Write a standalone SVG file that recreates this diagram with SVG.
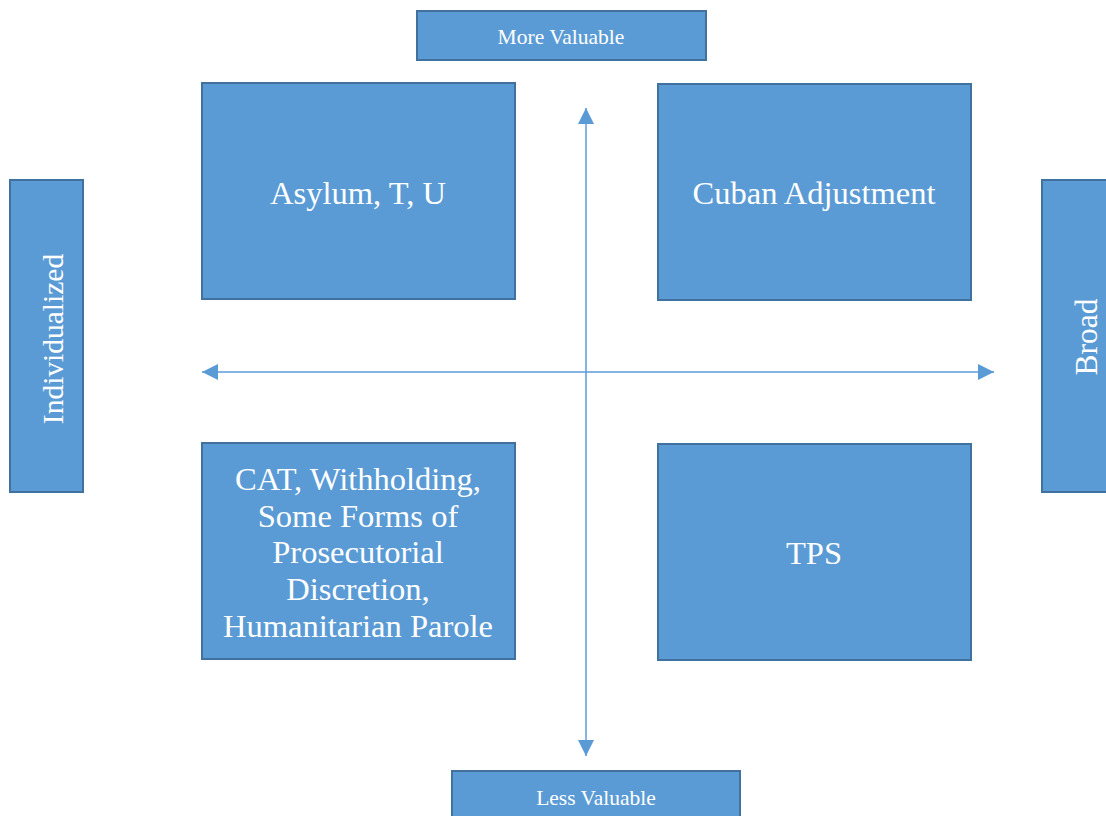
<svg xmlns="http://www.w3.org/2000/svg" width="1106" height="816" viewBox="0 0 1106 816">
<defs>
<style>
.box{fill:#5B9BD5;stroke:#41719C;stroke-width:2}
.t{fill:#fff;font-family:"Liberation Serif","Times New Roman",serif;text-anchor:middle}
.big{font-size:32.5px}
.small{font-size:21.5px}
.ax{stroke:#5B9BD5;stroke-width:1.5;fill:none}
</style>
<marker id="ah" viewBox="0 0 10 10" refX="10" refY="5" markerWidth="16" markerHeight="16" markerUnits="userSpaceOnUse" orient="auto">
<path d="M0,0 L10,5 L0,10 Z" fill="#5B9BD5"/>
</marker>
</defs>
<rect width="1106" height="816" fill="#fff"/>
<g id="connectors">
<line class="ax" x1="586" y1="372" x2="586" y2="108" marker-end="url(#ah)"/>
<line class="ax" x1="586" y1="372" x2="586" y2="756" marker-end="url(#ah)"/>
<line class="ax" x1="586" y1="372" x2="202" y2="372" marker-end="url(#ah)"/>
<line class="ax" x1="586" y1="372" x2="994" y2="372" marker-end="url(#ah)"/>
</g>
<g id="more-valuable">
<rect class="box" x="417" y="11" width="289" height="49"/>
<text class="t small" x="561" y="44">More Valuable</text>
</g>
<g id="less-valuable">
<rect class="box" x="452" y="771" width="288" height="50"/>
<text class="t small" x="596" y="805">Less Valuable</text>
</g>
<g id="individualized">
<rect class="box" x="10" y="180" width="73" height="312"/>
<text class="t" style="font-size:29.5px" transform="translate(63,339) rotate(-90)">Individualized</text>
</g>
<g id="broad">
<rect class="box" x="1042" y="180" width="70" height="312"/>
<text class="t" style="font-size:31.5px" transform="translate(1097,337) rotate(-90)">Broad</text>
</g>
<g id="asylum">
<rect class="box" x="202" y="83" width="313" height="216"/>
<text class="t big" x="358" y="204">Asylum, T, U</text>
</g>
<g id="cuban">
<rect class="box" x="658" y="84" width="313" height="216"/>
<text class="t big" x="814" y="204">Cuban Adjustment</text>
</g>
<g id="cat">
<rect class="box" x="202" y="443" width="313" height="216"/>
<text class="t big" x="358" y="490">CAT, Withholding,</text>
<text class="t big" x="358" y="527">Some Forms of</text>
<text class="t big" x="358" y="563">Prosecutorial</text>
<text class="t big" x="358" y="600">Discretion,</text>
<text class="t big" x="358" y="637">Humanitarian Parole</text>
</g>
<g id="tps">
<rect class="box" x="658" y="444" width="313" height="216"/>
<text class="t big" x="814" y="564">TPS</text>
</g>
</svg>
